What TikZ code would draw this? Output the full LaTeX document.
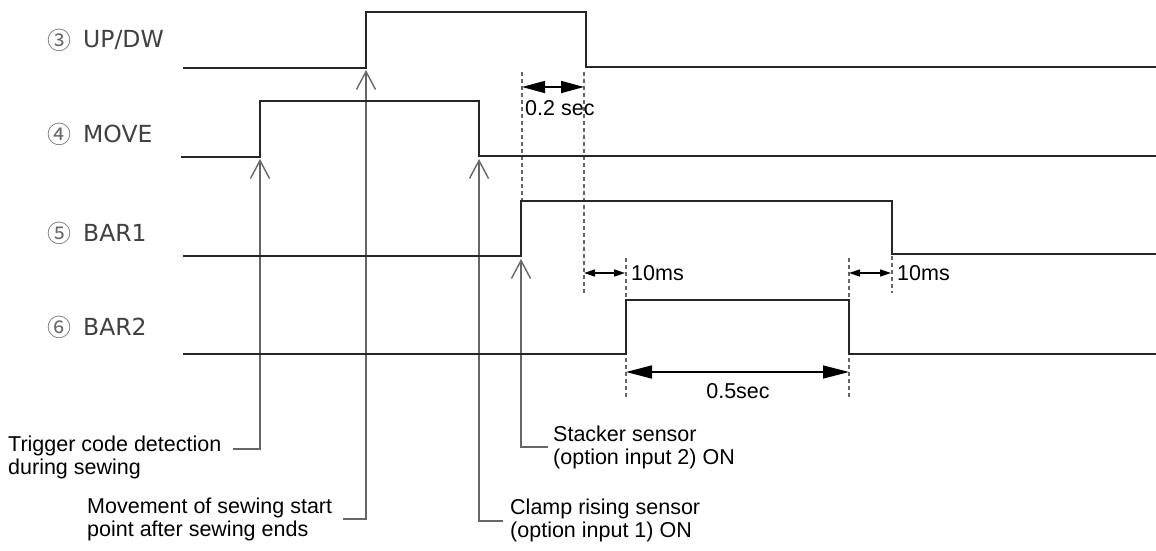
\documentclass[tikz,border=0pt]{standalone}
\usepackage{fontspec}
\setmainfont{Liberation Sans}
\newfontfamily\sigfont{DejaVu Sans}
\newfontfamily\cjk{Noto Sans CJK JP}
\usetikzlibrary{arrows.meta}
\begin{document}
\begin{tikzpicture}[x=1pt,y=-1pt,
  sig/.style={line width=2pt, black!85, line join=miter},
  lead/.style={line width=1.4pt, black!60},
  vtip/.style={-{Straight Barb[length=18pt,width=19pt]}},
  guide/.style={line width=1.4pt, black!60, dash pattern=on 4pt off 3pt},
  dimbig/.style={line width=1.6pt, black, {Triangle[length=23pt,width=12pt]}-{Triangle[length=23pt,width=12pt]}},
  dimsmall/.style={line width=1.6pt, black, {Triangle[length=11pt,width=7pt]}-{Triangle[length=11pt,width=7pt]}},
  dimlong/.style={line width=1.6pt, black, {Triangle[length=26pt,width=13pt]}-{Triangle[length=26pt,width=13pt]}},
  txt/.style={inner sep=0pt, anchor=base west, font=\fontsize{21.5}{23}\selectfont},
  sigtxt/.style={inner sep=0pt, anchor=base west, font=\sigfont\fontsize{23.5}{25}\selectfont, text=black!75},
  numtxt/.style={inner sep=0pt, anchor=base west, font=\cjk\fontsize{24}{25}\selectfont, text=black!60}]
\useasboundingbox (0,0) rectangle (1156,551);

% signal labels
\node[numtxt] (n3) at (47,49) {③};
\node[sigtxt] (l3) at (83,48) {UP/DW};
\node[numtxt] (n4) at (47,143) {④};
\node[sigtxt] (l4) at (83,142) {MOVE};
\node[numtxt] (n5) at (47,242) {⑤};
\node[sigtxt] (l5) at (83,241) {BAR1};
\node[numtxt] (n6) at (47,336) {⑥};
\node[sigtxt] (l6) at (83,335) {BAR2};

% guide (dashed) lines
\draw[guide] (522,72) -- (522,200);
\draw[guide] (584,72) -- (584,293);
\draw[guide] (626,258) -- (626,300);
\draw[guide] (626,358) -- (626,397);
\draw[guide] (849,258) -- (849,300);
\draw[guide] (849,358) -- (849,397);
\draw[guide] (892,256) -- (892,293);

% coordinates of events
\coordinate (trigTip) at (260,159);
\coordinate (movTip) at (366,70);
\coordinate (clampTip) at (479,159);
\coordinate (stackTip) at (521,259);
\coordinate (trigH) at (233,449);
\coordinate (movH) at (343,519);
\coordinate (clampH) at (503,521);
\coordinate (stackH) at (548,447);

% leaders with open arrow heads
\draw[lead, vtip] (trigH) -- (trigTip |- trigH) -- (trigTip);
\draw[lead, vtip] (movH) -- (movTip |- movH) -- (movTip);
\draw[lead, vtip] (clampH) -- (clampTip |- clampH) -- (clampTip);
\draw[lead, vtip] (stackH) -- (stackTip |- stackH) -- (stackTip);

% waveforms
\draw[sig] (183,68) -- (366,68) -- (366,12) -- (586,12) -- (586,67) -- (1156,67);
\draw[sig] (181,157) -- (260,157) -- (260,101) -- (479,101) -- (479,156) -- (1156,156);
\draw[sig] (183,256) -- (521,256) -- (521,201) -- (892,201) -- (892,254) -- (1156,254);
\draw[sig] (183,354) -- (626,354) -- (626,300) -- (849,300) -- (849,354) -- (1156,354);

% dimension arrows
\coordinate (d1a) at (522,87); \coordinate (d1b) at (584,87);
\draw[dimbig] (d1a) -- (d1b);
\node[txt] (t02) at (525,115) {0.2 sec};
\coordinate (d2a) at (584,273); \coordinate (d2b) at (625,273);
\draw[dimsmall] (d2a) -- (d2b);
\node[txt] (t10a) at (631,280) {10ms};
\coordinate (d3a) at (849,273); \coordinate (d3b) at (891,273);
\draw[dimsmall] (d3a) -- (d3b);
\node[txt] (t10b) at (897,280) {10ms};
\coordinate (d4a) at (626,372); \coordinate (d4b) at (849,372);
\draw[dimlong] (d4a) -- (d4b);
\node[txt, anchor=base] (t05) at (738,398) {0.5sec};

% event labels
\node[txt] (trig1) at (8,451) {Trigger code detection};
\node[txt] (trig2) at (8,474) {during sewing};
\node[txt] (mov1) at (87,513) {Movement of sewing start};
\node[txt] (mov2) at (87,536) {point after sewing ends};
\node[txt] (clamp1) at (510,514) {Clamp rising sensor};
\node[txt] (clamp2) at (510,537) {(option input 1) ON};
\node[txt] (stack1) at (553,441) {Stacker sensor};
\node[txt] (stack2) at (553,464) {(option input 2) ON};
\end{tikzpicture}
\end{document}
